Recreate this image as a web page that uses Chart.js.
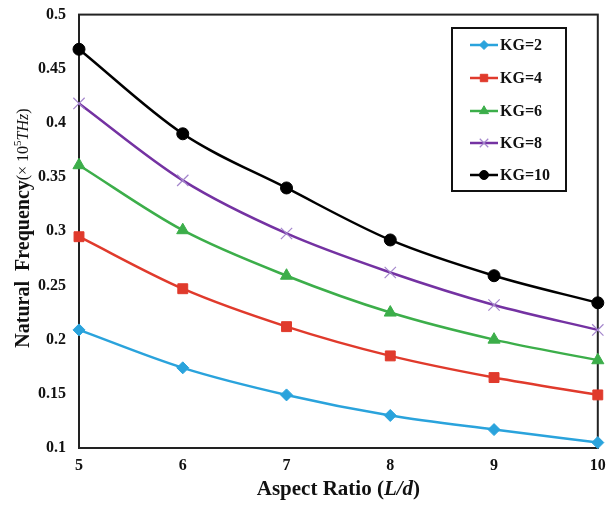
<!DOCTYPE html>
<html>
<head>
<meta charset="utf-8">
<script src="https://cdn.jsdelivr.net/npm/chart.js@4"></script>
<style>
  html, body { margin: 0; padding: 0; background: #fff; }
  #wrap { width: 607px; height: 505px; }
</style>
</head>
<body>
<div id="wrap"><canvas id="chartdiv"></canvas></div>
<script>
// aspect ratio L/d
const aspectRatio = [5, 6, 7, 8, 9, 10];

// natural frequency (x10^5 THz) per KG value
const kg2  = [0.209, 0.174, 0.149, 0.130, 0.117, 0.105];
const kg4  = [0.295, 0.247, 0.212, 0.185, 0.165, 0.149];
const kg6  = [0.361, 0.301, 0.259, 0.225, 0.200, 0.181];
const kg8  = [0.418, 0.347, 0.298, 0.262, 0.232, 0.209];
const kg10 = [0.468, 0.390, 0.340, 0.292, 0.259, 0.234];

const seriesLabels = ['KG=2', 'KG=4', 'KG=6', 'KG=8', 'KG=10'];
const yTicks = [0.1, 0.15, 0.2, 0.25, 0.3, 0.35, 0.4, 0.45, 0.5];

const serif = '"Liberation Serif", "DejaVu Serif", serif';

function pts(vals) {
  return vals.map(function (v, i) { return { x: aspectRatio[i], y: v }; });
}

function ds(label, vals, color, style, radius, pointColor) {
  return {
    label: label,
    data: pts(vals),
    borderColor: color,
    backgroundColor: pointColor || color,
    pointBorderColor: pointColor || color,
    pointBackgroundColor: pointColor || color,
    pointStyle: style,
    pointRadius: radius,
    pointBorderWidth: style === 'crossRot' ? 1.2 : 1,
    borderWidth: 2.5,
    tension: 0.4,
    cubicInterpolationMode: 'monotone',
    clip: false
  };
}

// frame round plot area + legend box + axis titles
const decor = {
  id: 'decor',
  beforeDatasetsDraw(chart) {
    const a = chart.chartArea, c = chart.ctx;
    c.save();
    c.strokeStyle = '#222';
    c.lineWidth = 2;
    c.strokeRect(a.left, a.top, a.right - a.left, a.bottom - a.top);
    c.restore();
  },
  afterDraw(chart) {
    const c = chart.ctx, a = chart.chartArea;
    c.save();
    // legend
    c.strokeStyle = '#111';
    c.lineWidth = 2;
    c.fillStyle = '#fff';
    c.fillRect(452, 28, 114, 163);
    c.strokeRect(452, 28, 114, 163);
    const ys = [45, 78, 111, 143, 175];
    chart.data.datasets.forEach(function (d, i) {
      const y = ys[i];
      c.strokeStyle = d.borderColor;
      c.lineWidth = 2.5;
      c.beginPath();
      c.moveTo(470, y);
      c.lineTo(498, y);
      c.stroke();
      c.fillStyle = d.pointBackgroundColor;
      c.strokeStyle = d.pointBorderColor;
      c.lineWidth = d.pointBorderWidth;
      Chart.helpers.drawPoint(c, { pointStyle: d.pointStyle, radius: d.pointRadius * 0.75, borderWidth: d.pointBorderWidth }, 484, y);
      c.fillStyle = '#111';
      c.font = 'bold 16px ' + serif;
      c.textAlign = 'left';
      c.textBaseline = 'middle';
      c.fillText(d.label, 500, y + 1);
    });

    // x title
    c.fillStyle = '#111';
    c.textBaseline = 'middle';
    const xa = 'Aspect Ratio (', xb = 'L/d', xc = ')';
    c.font = 'bold 21px ' + serif;
    const w1 = c.measureText(xa).width, w3 = c.measureText(xc).width;
    c.font = 'bold italic 21px ' + serif;
    const w2 = c.measureText(xb).width;
    let x = (a.left + a.right) / 2 - (w1 + w2 + w3) / 2;
    c.textAlign = 'left';
    c.font = 'bold 21px ' + serif;
    c.fillText(xa, x, 490);
    c.font = 'bold italic 21px ' + serif;
    c.fillText(xb, x + w1, 490);
    c.font = 'bold 21px ' + serif;
    c.fillText(xc, x + w1 + w2, 490);

    // y title
    c.translate(24, 228);
    c.rotate(-Math.PI / 2);
    const parts = [
      ['bold 20px ' + serif, 'Natural  Frequency', 0],
      ['16px ' + serif, '(\u00d7 10', 0],
      ['11px ' + serif, '5', -6],
      ['italic 16px ' + serif, 'THz', 0],
      ['16px ' + serif, ')', 0]
    ];
    let tw = 0;
    parts.forEach(function (p) { c.font = p[0]; tw += c.measureText(p[1]).width; });
    let px = -tw / 2;
    parts.forEach(function (p) {
      c.font = p[0];
      c.fillText(p[1], px, p[2]);
      px += c.measureText(p[1]).width;
    });
    c.restore();
  }
};

const ctx = document.querySelector('#chartdiv');

new Chart(ctx, {
  type: 'line',
  data: {
    datasets: [
      ds(seriesLabels[0], kg2, '#2aa3dc', 'rectRot', 6),
      ds(seriesLabels[1], kg4, '#e03a2c', 'rect', 7),
      ds(seriesLabels[2], kg6, '#3cae4a', 'triangle', 7),
      ds(seriesLabels[3], kg8, '#7432a2', 'crossRot', 8, '#a486cc'),
      ds(seriesLabels[4], kg10, '#000000', 'circle', 6)
    ]
  },
  options: {
    responsive: true,
    maintainAspectRatio: false,
    animation: false,
    layout: { padding: { top: 7, right: 0, left: 0, bottom: 0 } },
    plugins: {
      legend: { display: false },
      tooltip: { enabled: false }
    },
    scales: {
      x: {
        type: 'linear',
        min: 5,
        max: 10,
        grid: { display: false },
        border: { display: false },
        ticks: {
          stepSize: 1,
          padding: 0,
          color: '#111',
          font: { family: serif, size: 16, weight: 'bold' }
        },
        afterFit(scale) { scale.height = 57; }
      },
      y: {
        min: 0.1,
        max: 0.5,
        afterBuildTicks(scale) { scale.ticks = yTicks.map(function (v) { return { value: v }; }); },
        grid: { display: false },
        border: { display: false },
        ticks: {
          padding: 5,
          color: '#111',
          font: { family: serif, size: 16, weight: 'bold' },
          callback: function (v) { return String(Number(v.toFixed(2))); }
        },
        afterFit(scale) { scale.width = 79; }
      }
    }
  },
  plugins: [decor]
});
</script>
</body>
</html>
